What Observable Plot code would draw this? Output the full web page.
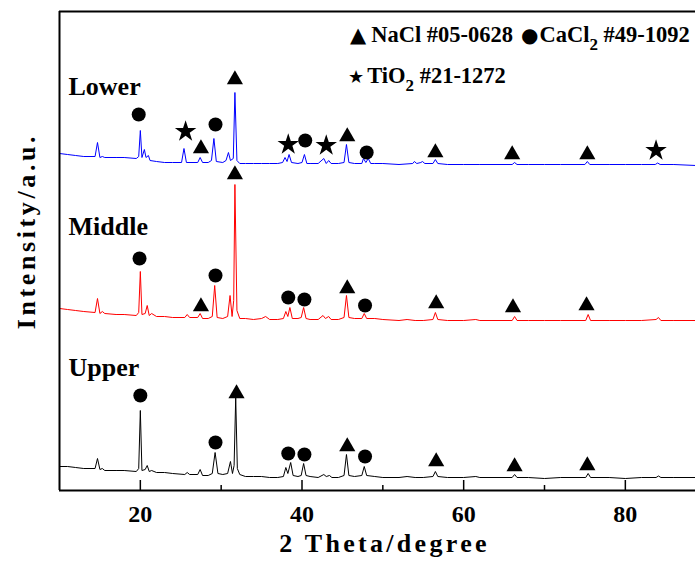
<!DOCTYPE html>
<html><head><meta charset="utf-8">
<script src="https://cdn.jsdelivr.net/npm/d3@7"></script>
<script src="https://cdn.jsdelivr.net/npm/@observablehq/plot@0.6"></script>
<style>
html,body{margin:0;padding:0;background:#fff;overflow:hidden;}
#wrap{position:relative;width:695px;height:562px;overflow:hidden;}
.leg{position:absolute;font-family:"Liberation Serif","Times New Roman",serif;font-weight:bold;font-size:22.5px;line-height:23px;white-space:nowrap;color:#000;}
.sym{font-family:"DejaVu Sans",sans-serif;font-weight:normal;}
.sub{font-size:17px;position:relative;top:8px;}
#ylab{position:absolute;left:-123px;top:218px;width:300px;height:26px;line-height:26px;text-align:center;
  font-family:"Liberation Serif","Times New Roman",serif;font-weight:bold;font-size:26px;letter-spacing:3.6px;
  transform:rotate(-90deg);transform-origin:150px 13px;white-space:nowrap;color:#000;}
</style></head><body>
<div id="wrap">
  <div class="leg" style="left:350px;top:23px;"><span class="sym" style="font-size:21px">▲</span><span style="margin-left:5px">NaCl #05-0628</span><span class="sym" style="font-size:20px;margin-left:8px">●</span><span style="margin-left:1px">CaCl</span><span class="sub">2</span> #49-1092</div>
  <div class="leg" style="left:348px;top:64px;"><span class="sym" style="font-size:18px">★</span><span style="margin-left:3px">TiO</span><span class="sub">2</span> #21-1272</div>
  <div id="ylab">Intensity/a.u.</div>
</div>
<script>
const xMin = 10, xMax = 88.68;
const majorTicks = [20, 40, 60, 80];
const minorTicks = [30, 50, 70];
const seriesNames = ["Upper", "Middle", "Lower"];
const seriesColors = ["#000000", "#ff0000", "#0000ff"];

// [2theta, intensity a.u.]
const upper = [[10,24],[11,24],[12,23],[13,22],[14.4,22],[14.7,32],[15.0,21],[15.3,22],[15.6,20],[17,20],[18,20],[19.5,19],[19.8,22],[20.0,80],[20.2,20],[20.6,21],[20.85,25],[21.1,19],[21.4,20],[22,18],[23,18],[24,17],[25.5,16],[25.8,18],[26.1,16],[27.1,16],[27.4,21],[27.7,15],[28.4,15],[28.9,17],[29.25,38],[29.6,17],[30.2,16],[30.8,17],[31.15,29],[31.4,17],[31.6,25],[31.8,93],[32.0,22],[32.3,16],[33,14],[34,14],[35,14],[36,13],[37,13],[37.7,14],[38.0,23],[38.25,17],[38.6,28],[38.9,15],[39.5,14],[39.9,15],[40.2,27],[40.5,15],[41,14],[42,13],[42.7,16],[43.0,14],[43.4,15],[43.7,13],[44.5,13],[45.2,15],[45.5,36],[45.8,15],[46.5,14],[47.4,15],[47.7,24],[48.0,15],[49,14],[50,13],[52,13],[53,14],[54,13],[55,13],[56.2,14],[56.5,19],[56.8,14],[58,13],[60,13],[61.5,14],[62,13],[64,13],[66,13],[66.3,16],[66.6,13],[68,13],[70,12],[72,13],[75.1,13],[75.4,17],[75.7,13],[78,13],[80,12],[82,13],[83.8,13],[84.1,14.5],[84.4,13],[86,13],[88.7,13]];
const middle = [[10,182],[11,181],[12,180],[13,179],[14.4,178],[14.7,192],[15.0,177],[15.3,179],[15.6,177],[17,176],[18,176],[19.5,175],[19.8,178],[20.0,219],[20.2,176],[20.6,177],[20.85,185],[21.1,175],[21.4,177],[22,174],[23,174],[24,173],[25.5,173],[25.8,176],[26.1,173],[27.1,173],[27.4,177],[27.7,172],[28.4,172],[28.9,174],[29.2,205],[29.5,173],[30.2,172],[30.8,174],[31.1,195],[31.35,174],[31.55,190],[31.7,306],[31.95,180],[32.3,172],[33,172],[34,171],[35,172],[35.5,174],[36,171],[37,171],[37.7,172],[38.0,179],[38.25,174],[38.5,183],[38.8,172],[39.5,172],[39.9,173],[40.2,183],[40.5,172],[41,171],[42,171],[42.6,175],[42.9,172],[43.3,174],[43.6,171],[44.5,171],[45.2,173],[45.5,195],[45.8,173],[46.5,172],[47.4,172],[47.7,177],[48.0,172],[49,172],[50,171],[52,170],[53,171],[54,170],[55,170],[56.2,171],[56.5,178],[56.8,171],[58,170],[60,170],[61.5,171],[62,170],[64,170],[66,170],[66.3,174],[66.6,170],[68,170],[70,170],[72,170],[75.1,170],[75.4,176],[75.7,170],[78,170],[80,170],[82,170],[83.8,171],[84.1,173],[84.4,170],[86,170],[88.7,170]];
const lower = [[10,337],[11,336],[12,335],[13,334],[14.4,334],[14.7,348],[15.0,333],[15.3,334],[15.6,333],[17,333],[18,333],[19.5,332],[19.8,334],[20.0,360],[20.2,333],[20.5,341],[20.7,333],[21.0,335],[21.2,330],[22,329],[23,328],[24,328],[25.1,328],[25.4,342],[25.7,328],[27.1,328],[27.4,333],[27.7,328],[28.4,328],[28.8,330],[29.1,352],[29.4,329],[30.2,328],[30.6,330],[30.9,338],[31.15,330],[31.5,332],[31.7,398],[31.95,330],[32.3,327],[33,327],[34,327],[35,327],[36,327],[37,327],[37.6,328],[37.9,333],[38.15,329],[38.4,336],[38.7,328],[39.5,327],[40.0,328],[40.3,336],[40.6,327],[41,327],[42,327],[42.7,332],[43.0,327],[43.3,330],[43.6,327],[44.5,327],[45.2,328],[45.5,346],[45.8,328],[46.5,327],[47.4,327],[47.6,332],[47.9,328],[48.2,332],[48.5,327],[49,327],[50,327],[52,326],[53.7,327],[53.9,329],[54.2,327],[54.7,328],[54.9,329],[55.2,327],[56.2,327],[56.5,331],[56.8,327],[58,326],[60,326],[62,326],[64,326],[66,326],[66.3,328],[66.6,326],[68,326],[70,326],[72,326],[75.0,326],[75.3,329],[75.6,326],[78,326],[80,326],[82,326],[83.7,326],[84.0,327.5],[84.3,326],[86,326],[88.7,325]];

// phase markers [2theta, intensity]
const naclMarks = [[27.5,342],[31.7,411],[45.6,354],[56.5,338],[66.0,336],[75.3,336],
                   [31.7,316],[27.5,184],[45.6,202],[56.6,187],[66.1,183],[75.2,185],
                   [31.9,97],[45.6,44],[56.6,29],[66.3,24],[75.3,25]];
const cacl2Marks = [[19.8,376],[29.3,366],[40.4,350],[48.0,338],
                    [19.9,232],[29.3,215],[38.3,193],[40.3,191],[47.8,185],
                    [20.0,95],[29.3,48],[38.3,37],[40.3,36],[47.8,34]];
const tio2Marks = [[25.6,359],[38.3,346],[43.0,345],[83.8,340]];

const font = '"Liberation Serif","Times New Roman",serif';
const px = d => d[0], py = d => d[1];

const plot = Plot.plot({
  width: 695, height: 562,
  marginLeft: 59, marginRight: 0, marginTop: 11, marginBottom: 72,
  x: {domain: [xMin, xMax]},
  y: {domain: [0, 479], axis: null},
  style: {fontFamily: font, fontWeight: "bold", fontSize: "24px", color: "#000", background: "#fff"},
  marks: [
    Plot.line(upper, {x: px, y: py, stroke: seriesColors[0], strokeWidth: 1}),
    Plot.line(middle, {x: px, y: py, stroke: seriesColors[1], strokeWidth: 1}),
    Plot.line(lower, {x: px, y: py, stroke: seriesColors[2], strokeWidth: 1}),
    Plot.ruleX(majorTicks, {x: d => d, y1: 0, y2: 10, strokeWidth: 1.5}),
    Plot.ruleX(minorTicks, {x: d => d, y1: 0, y2: 5, strokeWidth: 1.5}),
    Plot.ruleY([0, 479], {strokeWidth: 2}),
    Plot.ruleX([xMin], {strokeWidth: 2}),
    Plot.axisX({ticks: majorTicks, tickSize: 0, tickPadding: 14, fontSize: 24, label: null}),
    Plot.text(["2 Theta/degree"], {text: d => d, frameAnchor: "bottom", dy: 61, dx: 7, fontSize: 26}),
    Plot.text(seriesNames, {text: d => d, y: [122.5, 263.5, 404], frameAnchor: "left", dx: 9, textAnchor: "start", fontSize: 26}),
    Plot.dot(naclMarks, {x: px, y: py, symbol: "triangle", r: 6, fill: "#000"}),
    Plot.dot(cacl2Marks, {x: px, y: py, symbol: "circle", r: 7, fill: "#000"}),
    Plot.dot(tio2Marks, {x: px, y: py, symbol: "star", r: 6.75, fill: "#000"})
  ]
});
plot.querySelectorAll("text").forEach(t => {
  if (t.textContent === "2 Theta/degree") t.style.letterSpacing = "3.3px";
});
document.getElementById("wrap").prepend(plot);
plot.style.position = "absolute"; plot.style.left = "0"; plot.style.top = "0";
</script></body></html>
